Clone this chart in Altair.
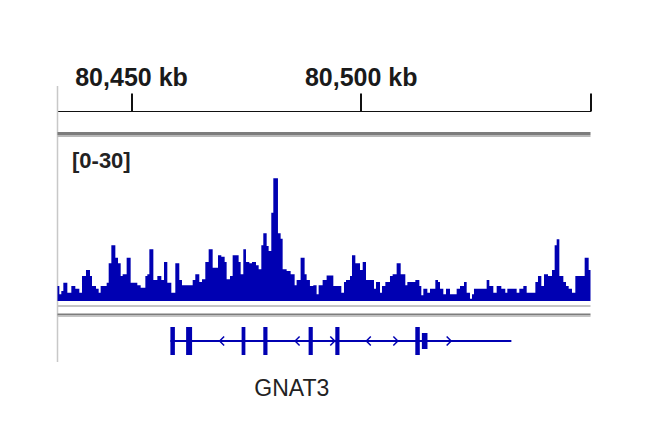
import altair as alt
import pandas as pd

# ---------------- data ----------------
region_kb = [80434, 80550]
ruler_ticks_kb = [80450, 80500, 80550]
track_range = [0, 30]
track_label = "[0-30]"

bin_start_kb = [
    80434.00, 80434.40, 80434.83, 80435.27, 80436.14, 80437.01, 80437.88, 80438.75, 80439.33, 80440.20,
    80441.07, 80441.51, 80442.38, 80442.96, 80443.39, 80444.70, 80445.14, 80445.72, 80446.59, 80447.17,
    80447.75, 80448.18, 80449.05, 80449.92, 80450.36, 80451.37, 80452.10, 80453.12, 80453.55, 80453.99,
    80454.86, 80455.73, 80456.60, 80457.18, 80457.90, 80458.77, 80459.64, 80460.51, 80461.09, 80461.67,
    80463.42, 80463.99, 80464.86, 80465.45, 80466.17, 80466.90, 80467.77, 80468.49, 80468.93, 80469.65,
    80470.38, 80470.81, 80471.54, 80472.12, 80472.99, 80473.42, 80473.86, 80474.44, 80475.02, 80475.75,
    80476.33, 80477.20, 80477.78, 80478.36, 80478.79, 80479.52, 80479.95, 80480.53, 80480.97, 80481.98,
    80482.56, 80483.00, 80483.87, 80484.74, 80485.61, 80486.04, 80486.91, 80487.78, 80488.22, 80488.94,
    80489.67, 80490.39, 80490.83, 80491.70, 80492.57, 80494.03,
    80495.77, 80496.35, 80496.79, 80497.66, 80498.09, 80498.82, 80499.84, 80500.42, 80501.14, 80502.88,
    80503.32, 80504.19, 80504.62, 80505.35, 80506.36, 80506.94, 80507.81, 80508.69, 80509.70, 80510.14,
    80511.88, 80512.75, 80513.18, 80513.62, 80514.49, 80515.07, 80516.23, 80516.81, 80517.25, 80517.97,
    80518.55, 80519.42, 80520.87, 80521.60, 80522.47, 80523.05, 80523.77, 80524.21, 80524.64, 80527.40,
    80527.98, 80528.85, 80529.58, 80530.59, 80531.46, 80531.90, 80533.93, 80534.51, 80535.38, 80536.11,
    80538.00, 80538.57, 80539.30, 80539.88, 80540.75, 80541.62, 80542.20, 80542.64, 80543.22, 80544.09,
    80544.67, 80545.25, 80545.97, 80546.70, 80548.73, 80549.60,
]
coverage = [
    2.76, 1.23, 1.84, 3.37, 1.53, 2.76, 2.27, 1.53, 4.60, 5.71,
    4.60, 2.76, 2.27, 1.53, 2.76, 3.37, 6.93, 10.25, 7.98, 6.93,
    4.60, 4.91, 7.98, 3.37, 3.37, 2.88, 2.45, 4.60, 4.91, 9.51,
    3.87, 4.60, 3.87, 7.18, 3.37, 1.53, 6.93, 3.87, 2.88, 2.88,
    3.87, 4.91, 3.50, 3.99, 7.18, 9.51, 6.13, 6.13, 8.40, 8.16,
    7.18, 3.99, 4.60, 8.40, 8.40, 7.18, 4.91, 9.51, 7.18, 6.93,
    7.18, 6.56, 5.83, 10.25, 12.45, 10.12, 9.20, 16.26, 22.58, 12.45,
    11.47, 5.83, 5.52, 4.91, 2.88, 3.87, 7.98, 4.91, 3.87, 2.76,
    2.88, 1.23, 2.88, 3.87, 4.70, 2.76,
    1.53, 3.50, 3.87, 4.60, 8.40, 6.93, 5.71, 7.18, 3.87, 2.27,
    3.50, 1.53, 2.76, 3.50, 4.60, 4.91, 6.93, 4.91, 2.88, 3.50,
    3.87, 2.76, 1.04, 2.27, 1.53, 2.27, 3.87, 3.50, 2.27, 1.23,
    2.27, 1.23, 2.27, 2.76, 3.50, 1.53, 0.43, 1.23, 2.27, 3.87,
    2.76, 1.53, 2.76, 2.27, 1.53, 2.27, 1.53, 2.27, 2.76, 1.53,
    3.50, 4.60, 2.76, 4.91, 4.60, 5.71, 10.25, 11.35, 4.60, 3.50,
    2.76, 2.27, 1.53, 4.60, 7.98, 5.71,
]

gene_name = "GNAT3"
gene_label_kb = 80485.0
gene_span_kb = [80458.57, 80532.78]
exon_start_kb = [80458.57, 80461.99, 80474.07, 80478.79, 80488.65, 80494.46, 80511.87]
exon_end_kb = [80459.55, 80463.29, 80474.89, 80479.70, 80489.56, 80495.37, 80512.85]
utr_start_kb = [80513.30]
utr_end_kb = [80514.52]
strand_mark_kb = [80469.78, 80486.20, 80493.85, 80501.70, 80507.58, 80519.18]
strand_mark_dir = ["<", "<", ">", "<", ">", ">"]

# ---------------- styling ----------------
BLUE = "#0000b2"
FONT = "Liberation Sans, Arial, sans-serif"
W, H = 533, 254

# step outline of the coverage track: each bin holds its value until the next bin starts
steps = pd.DataFrame({
    "pos": bin_start_kb + [region_kb[1]],
    "value": coverage + [coverage[-1]],
})

xaxis = alt.Axis(
    orient="top", values=ruler_ticks_kb, title=None, grid=False,
    labelExpr="datum.value >= 80550 ? '' : format(datum.value, ',') + ' kb'",
    tickSize=18, tickWidth=2, tickColor="#111111",
    domainColor="#111111", domainWidth=1.2,
    labelFont=FONT, labelFontSize=25, labelFontWeight="bold", labelColor="#1a1a1a",
    labelPadding=8, labelBaseline="alphabetic", labelFlush=False, labelOverlap=False,
)
xscale = alt.Scale(domain=region_kb, nice=False, zero=False)


def X(field):
    return alt.X(f"{field}:Q", scale=xscale, axis=xaxis, title=None)


one = pd.DataFrame({"k": [0]})

left_line = alt.Chart(one).mark_rule(color="#c8c8c8", strokeWidth=1.5).encode(
    x=alt.value(0), y=alt.value(-25), y2=alt.value(251))

ruler_band_dark = alt.Chart(one).mark_rect(color="#7c7c7c").encode(
    x=alt.value(0), x2=alt.value(W), y=alt.value(21), y2=alt.value(24))
ruler_band_light = alt.Chart(one).mark_rect(color="#b8b8b8").encode(
    x=alt.value(0), x2=alt.value(W), y=alt.value(24), y2=alt.value(26))

bars = alt.Chart(steps).mark_area(color=BLUE, interpolate="step-after", opacity=1).encode(
    x=X("pos"),
    y=alt.Y("value:Q", scale=alt.Scale(domain=track_range, range=[190, 27]), axis=None),
    y2=alt.datum(0),
)

label = alt.Chart(pd.DataFrame({"t": [track_label]})).mark_text(
    font=FONT, fontSize=22, fontWeight="bold", color="#222222", align="left", baseline="alphabetic"
).encode(x=alt.value(14.5), y=alt.value(57), text="t:N")

low_light = alt.Chart(one).mark_rect(color="#c4c4c4").encode(
    x=alt.value(0), x2=alt.value(W), y=alt.value(194), y2=alt.value(196))
low_dark = alt.Chart(one).mark_rect(color="#7c7c7c").encode(
    x=alt.value(0), x2=alt.value(W), y=alt.value(202.5), y2=alt.value(204.5))
low_dark2 = alt.Chart(one).mark_rect(color="#c4c4c4").encode(
    x=alt.value(0), x2=alt.value(W), y=alt.value(204.5), y2=alt.value(206))

gene_df = pd.DataFrame({"s": [gene_span_kb[0]], "e": [gene_span_kb[1]]})
gene_line = alt.Chart(gene_df).mark_rule(color=BLUE, strokeWidth=2).encode(
    x=X("s"), x2="e", y=alt.value(230))

exons = alt.Chart(pd.DataFrame({"s": exon_start_kb, "e": exon_end_kb})).mark_rect(color=BLUE).encode(
    x=X("s"), x2="e", y=alt.value(216), y2=alt.value(244))
utr = alt.Chart(pd.DataFrame({"s": utr_start_kb, "e": utr_end_kb})).mark_rect(color=BLUE).encode(
    x=X("s"), x2="e", y=alt.value(222), y2=alt.value(238))

arrows = alt.Chart(pd.DataFrame({"pos": strand_mark_kb, "dir": strand_mark_dir})).mark_point(
    filled=False, color=BLUE, strokeWidth=1.5, size=80, opacity=1
).encode(
    x=X("pos"), y=alt.value(230),
    shape=alt.Shape("dir:N", scale=alt.Scale(domain=["<", ">"],
                                              range=["M0.5,-1L-0.5,0L0.5,1", "M-0.5,-1L0.5,0L-0.5,1"]),
                    legend=None),
)

name = alt.Chart(pd.DataFrame({"pos": [gene_label_kb], "n": [gene_name]})).mark_text(
    font=FONT, fontSize=23, color="#222222", align="center", baseline="alphabetic"
).encode(x=X("pos"), y=alt.value(285), text="n:N")

chart = alt.layer(
    left_line, ruler_band_dark, ruler_band_light, bars, label,
    low_light, low_dark, low_dark2, gene_line, exons, utr, arrows, name,
).properties(
    width=W, height=H,
    padding={"left": 49.5, "top": 103, "right": 51.5, "bottom": 60},
    autosize=alt.AutoSizeParams(type="none"),
).configure_view(stroke=None)

chart.save("out.html", embed_options={"renderer": "svg", "actions": False})
